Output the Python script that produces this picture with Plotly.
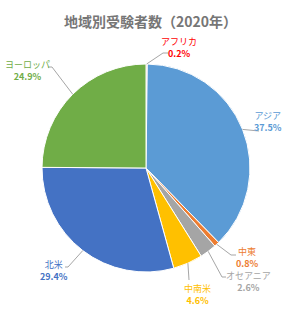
import math
import plotly.graph_objects as go

title = "地域別受験者数（2020年）"
categories = ["アフリカ", "アジア", "中東", "オセアニア", "中南米", "北米", "ヨーロッパ"]
values = [0.2, 37.5, 0.8, 2.6, 4.6, 29.4, 24.9]

slice_colors = ["#FF9999", "#5B9BD5", "#ED7D31", "#A5A5A5", "#FFC000", "#4472C4", "#70AD47"]
label_colors = ["#FF0000", "#5B9BD5", "#ED7D31", "#A5A5A5", "#FFC000", "#4472C4", "#70AD47"]

W, H = 300, 313
CX, CY, R = 146, 168, 104

# label placement (pixels): text center x, name y, and leader elbow/end points
label_style = {
    "アフリカ": dict(x=179, y=41, path=[(163, 53), (168, 53)]),
    "アジア": dict(x=268, y=115, path=[(259, 131)]),
    "中東": dict(x=247, y=251, path=[(231, 255), (236, 255)]),
    "オセアニア": dict(x=248, y=275, path=[(222, 277), (226, 277)]),
    "中南米": dict(x=197, y=288, path=[(189, 280)]),
    "北米": dict(x=54, y=264, path=[(68, 267), (65, 267)]),
    "ヨーロッパ": dict(x=27, y=65, path=[(52, 67), (48, 67)]),
}

FONT = "Noto Sans CJK JP"

def px(x):
    return x / W

def py(y):
    return 1 - y / H

fig = go.Figure(go.Pie(
    labels=categories,
    values=values,
    sort=False,
    direction="clockwise",
    rotation=0,
    marker=dict(colors=slice_colors, line=dict(color="white", width=1)),
    textinfo="none",
    hoverinfo="label+percent",
    domain=dict(x=[px(CX - R), px(CX + R)], y=[py(CY + R), py(CY - R)]),
    showlegend=False,
))

annotations = []
shapes = []
total = sum(values)
cum = 0.0
for cat, val, col in zip(categories, values, label_colors):
    mid = (cum + val / 2) / total * 2 * math.pi
    cum += val
    ex = CX + R * math.sin(mid)
    ey = CY - R * math.cos(mid)
    st = label_style[cat]
    pts = [(ex, ey)] + st["path"]
    d = "M {} {}".format(px(pts[0][0]), py(pts[0][1]))
    for (x, y) in pts[1:]:
        d += " L {} {}".format(px(x), py(y))
    shapes.append(dict(type="path", xref="paper", yref="paper", path=d,
                       line=dict(color="#A6A6A6", width=1)))
    annotations.append(dict(x=px(st["x"]), y=py(st["y"] + 6), xref="paper", yref="paper",
                            text="{}<br><b>{:.1f}%</b>".format(cat, val), showarrow=False,
                            xanchor="center", yanchor="middle", align="center",
                            font=dict(family=FONT, size=9, color=col)))

annotations.append(dict(x=0.5, y=py(21), xref="paper", yref="paper", text="<b>" + title + "</b>",
                        showarrow=False, xanchor="center", yanchor="middle",
                        font=dict(family=FONT, size=14, color="#767676")))

fig.update_layout(
    width=W, height=H,
    margin=dict(l=0, r=0, t=0, b=0),
    paper_bgcolor="white",
    plot_bgcolor="white",
    annotations=annotations,
    shapes=shapes,
)

fig.write_html("out.html")
